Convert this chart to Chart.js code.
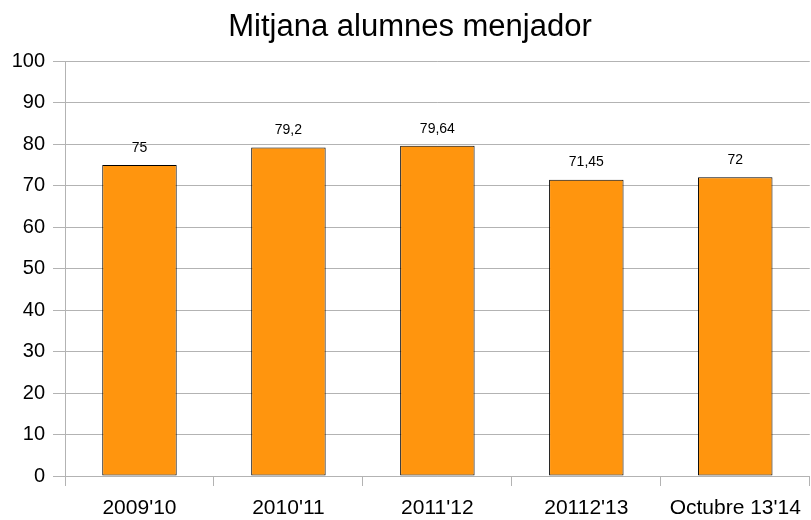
<!DOCTYPE html>
<html>
<head>
<meta charset="utf-8">
<script src="https://cdn.jsdelivr.net/npm/chart.js@4"></script>
<style>
  html, body { margin: 0; padding: 0; background: #fff; }
</style>
</head>
<body>
<canvas id="myChart" width="811" height="520"></canvas>
<script>
const categories = ["2009'10", "2010'11", "2011'12", "20112'13", "Octubre 13'14"];
const values = [75, 79.2, 79.64, 71.45, 72];
const valueLabels = ["75", "79,2", "79,64", "71,45", "72"];

const FONT = "'Liberation Sans', Arial, sans-serif";

// draws the value above each bar
const barValues = {
	id: 'barValues',
	afterDatasetsDraw(chart) {
		const ctx = chart.ctx;
		const meta = chart.getDatasetMeta(0);
		ctx.save();
		ctx.font = "14px " + FONT;
		ctx.fillStyle = "#000";
		ctx.textAlign = "center";
		ctx.textBaseline = "middle";
		meta.data.forEach((bar, i) => {
			ctx.fillText(valueLabels[i], bar.x, bar.y - 17);
		});
		ctx.restore();
	}
};

new Chart(document.getElementById("myChart").getContext("2d"), {
	type: "bar",
	data: {
		labels: categories,
		datasets: [{
			data: values,
			backgroundColor: "#ff950e",
			borderColor: "#000",
			borderWidth: 1,
			borderSkipped: false,
			categoryPercentage: 1,
			barPercentage: 0.5
		}]
	},
	options: {
		responsive: false,
		animation: false,
		devicePixelRatio: 1,
		layout: { padding: { left: 10, right: 1, top: 0, bottom: 0 } },
		plugins: {
			legend: { display: false },
			tooltip: { enabled: false },
			title: {
				display: true,
				text: "Mitjana alumnes menjador",
				color: "#000",
				font: { family: FONT, size: 31, weight: "normal" },
				padding: { top: 9, bottom: 15 }
			}
		},
		scales: {
			y: {
				min: 0,
				max: 100,
				ticks: {
					stepSize: 10,
					color: "#000",
					padding: 8,
					font: { family: FONT, size: 20 }
				},
				grid: { color: "#b3b3b3", tickLength: 12, lineWidth: 1 },
				border: { color: "#b3b3b3" },
				afterFit(scale) { scale.width = 55; }
			},
			x: {
				offset: true,
				ticks: {
					color: "#000",
					padding: 10,
					font: { family: FONT, size: 21 }
				},
				grid: {
					offset: true,
					tickLength: 10,
					tickColor: "#b3b3b3",
					color: (c) => c.index === categories.length ? "#b3b3b3" : "rgba(0,0,0,0)"
				},
				border: { color: "#b3b3b3" },
				afterFit(scale) { scale.height = 44; }
			}
		}
	},
	plugins: [barValues]
});
</script>
</body>
</html>
